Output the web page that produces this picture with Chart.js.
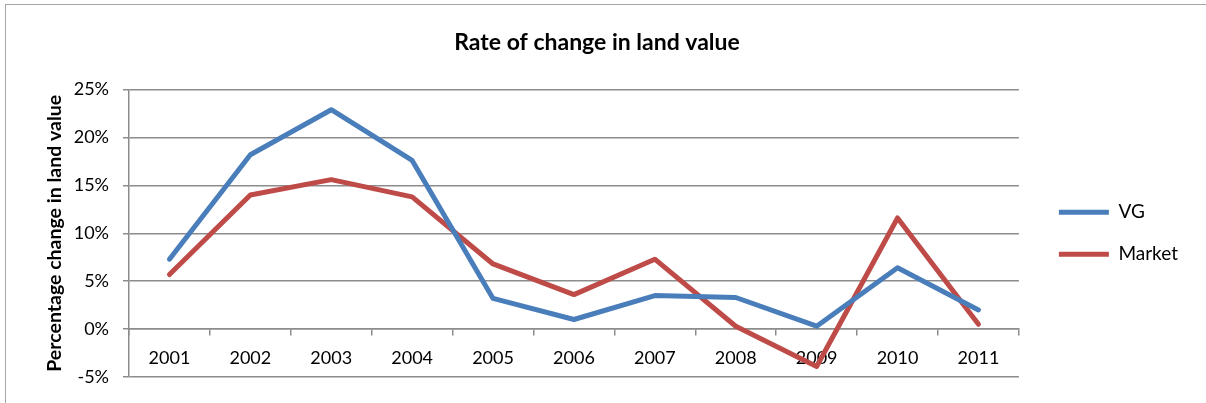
<!DOCTYPE html>
<html lang="en">
<head>
    <meta charset="UTF-8">
    <title>Rate of change in land value</title>
    <style>
        body { margin: 0; padding: 0; background: #fff; overflow: hidden; }
        .frame { position: absolute; left: 5px; top: 4px; width: 1260px; height: 460px; border: 1px solid #a6a6a6; }
        .box { position: absolute; left: 6px; top: 6px; width: 1194px; height: 397px; }
    </style>
</head>
<body>
    <div class="frame"></div>
    <div class="box"><canvas id="chart"></canvas></div>
    <script src="https://cdn.jsdelivr.net/npm/chart.js"></script>
    <script>
    // dados
    const anos = ['2001', '2002', '2003', '2004', '2005', '2006', '2007', '2008', '2009', '2010', '2011'];
    const vg = [7.3, 18.2, 22.9, 17.6, 3.2, 1.0, 3.5, 3.3, 0.3, 6.4, 2.0];
    const mercado = [5.7, 14.0, 15.6, 13.8, 6.8, 3.6, 7.3, 0.3, -3.9, 11.6, 0.5];
    const yTicks = [-5, 0, 5, 10, 15, 20, 25];

    const grade = '#8c8c8c';
    const fonte = 'Lato, "Liberation Sans", sans-serif';

    new Chart(document.getElementById('chart'), {
        type: 'line',
        data: {
            labels: anos,
            datasets: [
                { label: 'VG', data: vg, borderColor: '#4a7ebb', backgroundColor: '#4a7ebb',
                  borderWidth: 5, pointRadius: 0, tension: 0, borderCapStyle: 'round', borderJoinStyle: 'round' },
                { label: 'Market', data: mercado, borderColor: '#be4b48', backgroundColor: '#be4b48',
                  borderWidth: 5, pointRadius: 0, tension: 0, borderCapStyle: 'round', borderJoinStyle: 'round' }
            ]
        },
        options: {
            responsive: true,
            maintainAspectRatio: false,
            animation: false,
            layout: { padding: { left: 0, top: 0, right: 12, bottom: 26 } },
            plugins: {
                title: {
                    display: true,
                    text: 'Rate of change in land value',
                    color: '#000',
                    font: { family: fonte, size: 23, weight: 'bold' },
                    padding: { top: 23, bottom: 33 }
                },
                legend: {
                    position: 'right',
                    fullSize: false,
                    labels: {
                        usePointStyle: true,
                        pointStyle: 'line',
                        pointStyleWidth: 50,
                        padding: 23,
                        color: '#000',
                        font: { family: fonte, size: 19 }
                    }
                },
                tooltip: { enabled: false }
            },
            scales: {
                x: {
                    position: { y: 0 },
                    offset: true,
                    grid: { offset: true, drawOnChartArea: false, drawTicks: true, tickLength: 6, color: grade, lineWidth: 1.5 },
                    border: { display: true, color: grade, width: 1.5 },
                    ticks: { color: '#000', padding: 12, maxRotation: 0, font: { family: fonte, size: 18 } }
                },
                y: {
                    min: -5,
                    max: 25,
                    afterBuildTicks: s => { s.ticks = yTicks.map(v => ({ value: v })); },
                    afterFit: s => { s.width = 123; },
                    grid: { color: grade, lineWidth: 1.5, tickLength: 6 },
                    border: { display: true, color: grade, width: 1.5 },
                    ticks: { color: '#000', padding: 14, callback: v => v + '%', font: { family: fonte, size: 18 } },
                    title: {
                        display: true,
                        text: 'Percentage change in land value',
                        color: '#000',
                        font: { family: fonte, size: 19.5, weight: 'bold' },
                        padding: { top: 37, bottom: 0 }
                    }
                },
                yr: {
                    type: 'linear',
                    position: 'right',
                    grid: { display: false },
                    border: { display: false },
                    ticks: { display: false },
                    afterFit: s => { s.width = 17; }
                }
            }
        }
    });
    </script>
</body>
</html>
